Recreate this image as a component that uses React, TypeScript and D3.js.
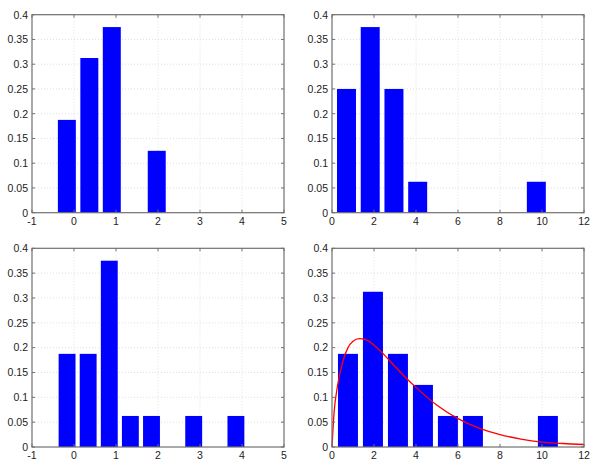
import React from "react";
import * as d3 from "d3";

// ---- data ----
const yTicks = [0, 0.05, 0.1, 0.15, 0.2, 0.25, 0.3, 0.35, 0.4];
const yTickLabels = ["0", "0.05", "0.1", "0.15", "0.2", "0.25", "0.3", "0.35", "0.4"];
const xTicksA = [-1, 0, 1, 2, 3, 4, 5];
const xTicksB = [0, 2, 4, 6, 8, 10, 12];

const centers1 = [-0.17, 0.365, 0.9, 1.435, 1.97];
const values1 = [0.1875, 0.3125, 0.375, 0, 0.125];

const centers2 = [0.69, 1.82, 2.95, 4.08, 5.21, 6.34, 7.47, 8.6, 9.73];
const values2 = [0.25, 0.375, 0.25, 0.0625, 0, 0, 0, 0, 0.0625];

const centers3 = [-0.165, 0.337, 0.84, 1.342, 1.845, 2.347, 2.85, 3.352, 3.855];
const values3 = [0.1875, 0.1875, 0.375, 0.0625, 0.0625, 0, 0.0625, 0, 0.0625];

const centers4 = [0.76, 1.95, 3.14, 4.33, 5.52, 6.71, 7.9, 9.09, 10.28];
const values4 = [0.1875, 0.3125, 0.1875, 0.125, 0.0625, 0.0625, 0, 0, 0.0625];

const curveX = [0, 0.1, 0.25, 0.5, 0.75, 1, 1.3, 1.6, 2, 2.5, 3, 3.5, 4, 5, 6, 7, 8, 9, 10, 11, 12];
const curveY = [0, 0.07, 0.12, 0.17, 0.199, 0.213, 0.218, 0.216, 0.205, 0.185, 0.162, 0.14, 0.12, 0.084, 0.057, 0.038, 0.025, 0.016, 0.01, 0.007, 0.005];

type PanelProps = {
  left: number;
  right: number;
  top: number;
  bottom: number;
  xDomain: [number, number];
  xTicks: number[];
  centers: number[];
  values: number[];
  curve?: boolean;
};

const FONT = "Liberation Sans, Arial, sans-serif";

function Panel({ left, right, top, bottom, xDomain, xTicks, centers, values, curve }: PanelProps) {
  const x = d3.scaleLinear().domain(xDomain).range([left, right]);
  const y = d3.scaleLinear().domain([0, 0.4]).range([bottom, top]);
  const spacing = (centers[centers.length - 1] - centers[0]) / (centers.length - 1);
  const bw = 0.8 * spacing;
  const line = d3
    .line<number>()
    .x((_, i) => x(curveX[i]))
    .y((d) => y(d))
    .curve(d3.curveMonotoneX);
  const tickLen = 3;
  const axisColor = "#707070";
  return (
    <g>
      {/* grid */}
      {xTicks.slice(1, -1).map((t) => (
        <line key={"gx" + t} x1={x(t)} x2={x(t)} y1={top} y2={bottom} stroke="#d8d8d8" strokeWidth={0.8} strokeDasharray="1,2" />
      ))}
      {yTicks.slice(1, -1).map((t) => (
        <line key={"gy" + t} x1={left} x2={right} y1={y(t)} y2={y(t)} stroke="#d8d8d8" strokeWidth={0.8} strokeDasharray="1,2" />
      ))}
      {/* bars */}
      {centers.map((c, i) =>
        values[i] > 0 ? (
          <rect
            key={"b" + i}
            x={x(c - bw / 2)}
            width={x(c + bw / 2) - x(c - bw / 2)}
            y={y(values[i])}
            height={y(0) - y(values[i])}
            fill="#0000ff"
          />
        ) : null
      )}
      {curve && <path d={line(curveY) || ""} fill="none" stroke="#ff0000" strokeWidth={1.3} />}
      {/* ticks */}
      {xTicks.map((t) => (
        <g key={"tx" + t}>
          <line x1={x(t)} x2={x(t)} y1={bottom} y2={bottom - tickLen} stroke={axisColor} />
          <line x1={x(t)} x2={x(t)} y1={top} y2={top + tickLen} stroke={axisColor} />
          <text x={x(t)} y={bottom + 12} textAnchor="middle" fontFamily={FONT} fontSize={10.5} fill="#222">
            {t}
          </text>
        </g>
      ))}
      {yTicks.map((t, i) => (
        <g key={"ty" + t}>
          <line x1={left} x2={left + tickLen} y1={y(t)} y2={y(t)} stroke={axisColor} />
          <line x1={right} x2={right - tickLen} y1={y(t)} y2={y(t)} stroke={axisColor} />
          <text x={left - 4} y={y(t) + 3.8} textAnchor="end" fontFamily={FONT} fontSize={10.5} fill="#222">
            {yTickLabels[i]}
          </text>
        </g>
      ))}
      {/* box */}
      <rect x={left} y={top} width={right - left} height={bottom - top} fill="none" stroke={axisColor} strokeWidth={1.2} />
    </g>
  );
}

export default function App() {
  return (
    <svg width={600} height={469} style={{ position: "absolute", left: 0, top: 0, background: "#fff" }}>
      <rect x={0} y={0} width={600} height={469} fill="#fff" />
      <Panel left={32} right={284} top={14.7} bottom={212.7} xDomain={[-1, 5]} xTicks={xTicksA} centers={centers1} values={values1} />
      <Panel left={332} right={584} top={14.7} bottom={212.7} xDomain={[0, 12]} xTicks={xTicksB} centers={centers2} values={values2} />
      <Panel left={32} right={284} top={248.3} bottom={447} xDomain={[-1, 5]} xTicks={xTicksA} centers={centers3} values={values3} />
      <Panel left={332} right={584} top={248.3} bottom={447} xDomain={[0, 12]} xTicks={xTicksB} centers={centers4} values={values4} curve />
    </svg>
  );
}
